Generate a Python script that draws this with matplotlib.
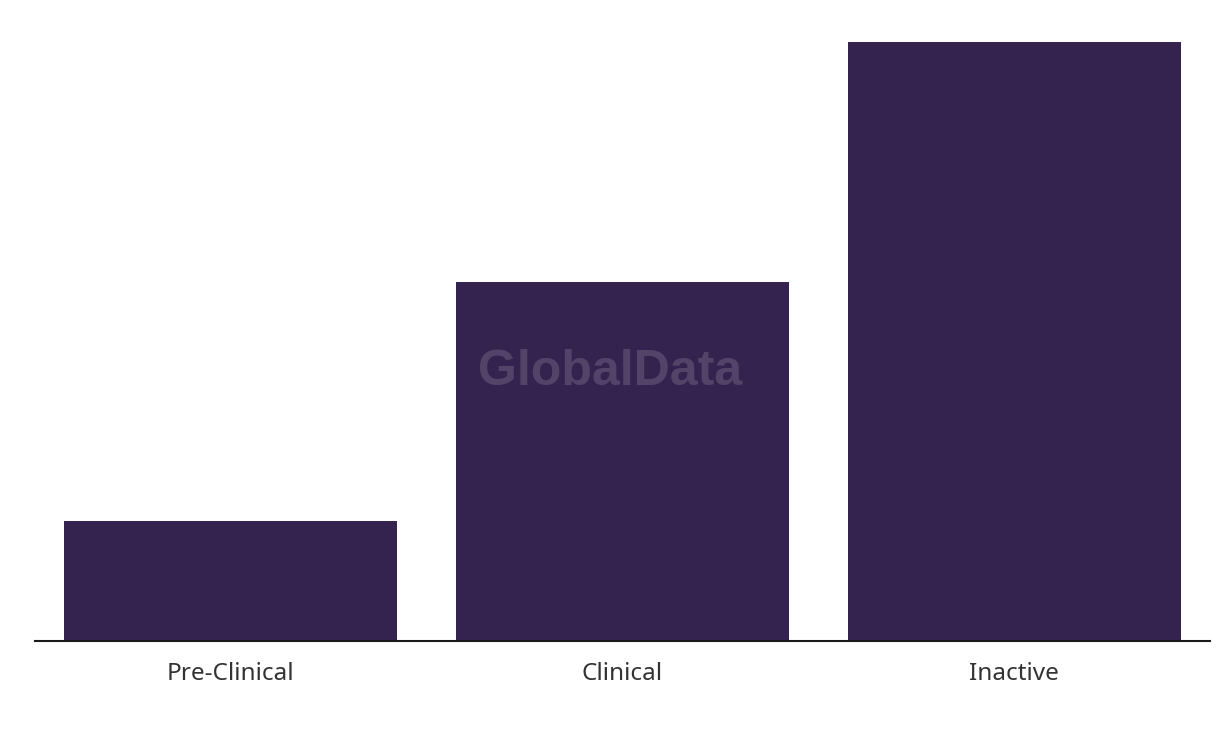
import matplotlib
matplotlib.use("Agg")
import matplotlib.pyplot as plt

categories = ["Pre-Clinical", "Clinical", "Inactive"]
counts = [1, 3, 5]

bar_color = "#35234f"

fig = plt.figure(figsize=(12.2, 7.36), dpi=100)
ax = fig.add_axes([35 / 1220, 95 / 736, 1175 / 1220, 599 / 736])

x = list(range(len(categories)))
ax.bar(x, counts, width=0.85, color=bar_color, zorder=2)

ax.set_xlim(-0.5, len(categories) - 0.5)
ax.set_ylim(0, max(counts))

ax.set_xticks(x)
ax.set_xticklabels(categories, fontsize=17.5, color="#333333", family="Noto Sans")
ax.tick_params(axis="x", length=0, pad=15)
ax.set_yticks([])

for side in ["top", "right", "left"]:
    ax.spines[side].set_visible(False)
ax.spines["bottom"].set_color("#1a1a1a")
ax.spines["bottom"].set_linewidth(1.5)

# watermark
fig.text(610 / 1220, 1 - 372 / 736, "GlobalData", ha="center", va="center",
         fontsize=36, fontweight="bold", family="Liberation Sans",
         color="white", alpha=0.15, zorder=5)

fig.savefig("out.png", dpi=100)
